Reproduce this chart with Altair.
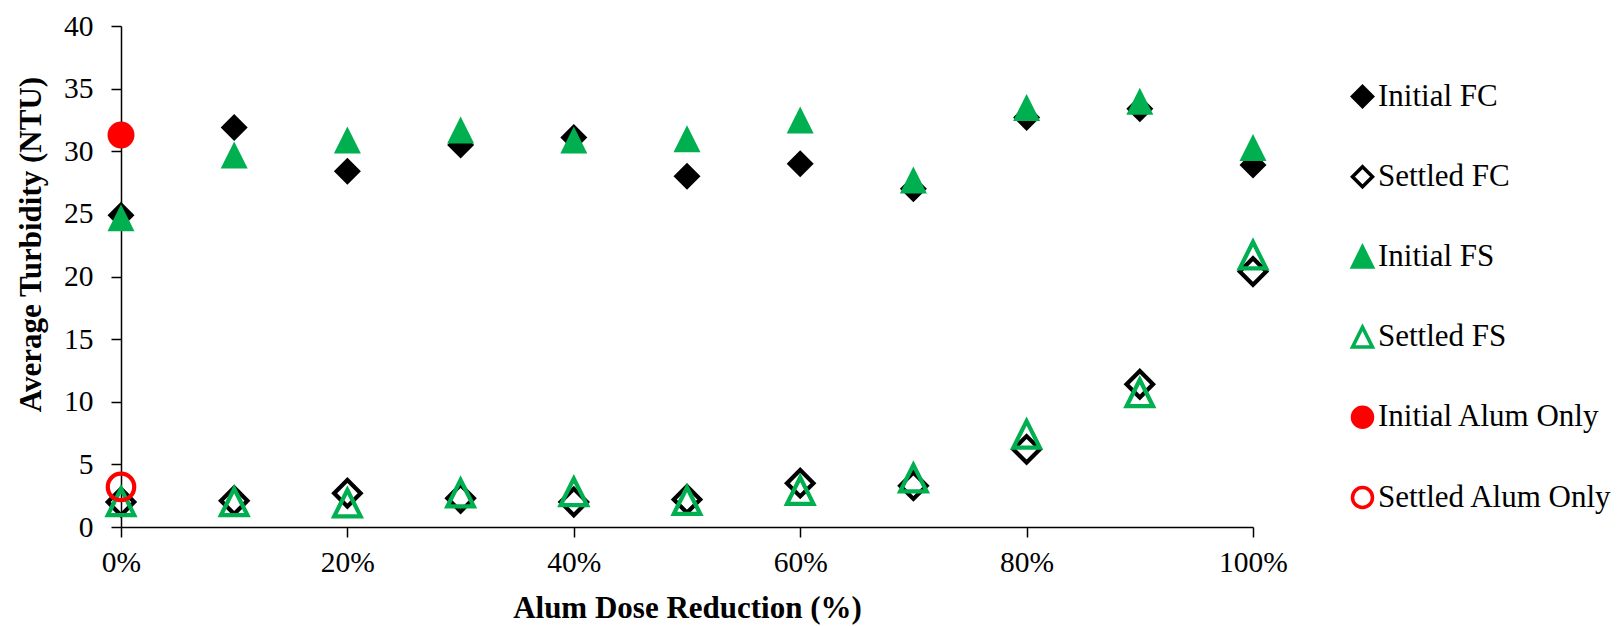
import altair as alt
import pandas as pd

# Alum dose reduction (%) for each jar test
reduction = [0, 10, 20, 30, 40, 50, 60, 70, 80, 90, 100]

# Average turbidity (NTU)
initial_fc = [24.9, 31.9, 28.4, 30.5, 31.1, 28.0, 29.0, 27.0, 32.7, 33.4, 28.9]
settled_fc = [2.0, 2.1, 2.7, 2.3, 2.0, 2.2, 3.5, 3.3, 6.2, 11.4, 20.4]
initial_fs = [24.7, 29.7, 30.9, 31.7, 30.9, 31.0, 32.5, 27.7, 33.5, 34.0, 30.3]
settled_fs = [2.0, 2.0, 1.9, 2.7, 2.8, 2.1, 2.9, 3.9, 7.4, 10.7, 21.7]

# Alum-only control (no reduction)
alum_reduction = [0]
initial_alum = [31.3]
settled_alum = [3.2]

series_names = ["Initial FC", "Settled FC", "Initial FS", "Settled FS",
                "Initial Alum Only", "Settled Alum Only"]

frames = []
for name, xs, ys in [
    ("Initial FC", reduction, initial_fc),
    ("Settled FC", reduction, settled_fc),
    ("Initial FS", reduction, initial_fs),
    ("Settled FS", reduction, settled_fs),
    ("Initial Alum Only", alum_reduction, initial_alum),
    ("Settled Alum Only", alum_reduction, settled_alum),
]:
    frames.append(pd.DataFrame({"reduction": xs, "turbidity": ys, "series": name}))
data = pd.concat(frames, ignore_index=True)
data["hollow"] = data["series"].str.startswith("Settled")

FONT = "Liberation Serif"
BLACK = "#000000"
GREEN = "#00B050"
RED = "#FF0000"

diamond = "M0,-1L1,0L0,1L-1,0Z"
triangle = "M0,-1L-1,1L1,1Z"
circle = "M1,0A1,1,0,1,1,-1,0A1,1,0,1,1,1,0Z"

shape_range = [diamond, diamond, triangle, triangle, circle, circle]
stroke_range = [BLACK, BLACK, GREEN, GREEN, RED, RED]
fill_range = [BLACK, "transparent", GREEN, "transparent", RED, "transparent"]

legend = alt.Legend(
    title=None,
    orient="none",
    legendX=1226,
    legendY=55,
    padding=0,
    labelFont=FONT,
    labelFontSize=31,
    labelColor=BLACK,
    labelOffset=0,
    symbolSize=400,
    symbolStrokeWidth=3.5,
    rowPadding=45.2,
    labelLimit=400,
)

base = alt.Chart(data).encode(
    x=alt.X(
        "reduction:Q",
        scale=alt.Scale(domain=[0, 100], nice=False, zero=False),
        axis=alt.Axis(
            values=[0, 20, 40, 60, 80, 100],
            labelExpr="datum.value + '%'",
            title="Alum Dose Reduction (%)",
            labelPadding=11,
            labelFlush=False,
            titleY=81,
            titleBaseline="middle",
        ),
    ),
    y=alt.Y(
        "turbidity:Q",
        scale=alt.Scale(domain=[0, 40], nice=False),
        axis=alt.Axis(
            values=[0, 5, 10, 15, 20, 25, 30, 35, 40],
            title="Average Turbidity (NTU)",
            labelPadding=18,
            labelFlush=False,
            titleX=-90,
            titleY=218,
            titleBaseline="middle",
            titleAlign="center",
        ),
    ),
    shape=alt.Shape("series:N", scale=alt.Scale(domain=series_names, range=shape_range), legend=legend),
    stroke=alt.Stroke("series:N", scale=alt.Scale(domain=series_names, range=stroke_range), legend=legend),
    fill=alt.Fill("series:N", scale=alt.Scale(domain=series_names, range=fill_range), legend=legend),
)

# Solid markers carry no outline; hollow markers get a heavy outline
solid = base.transform_filter("!datum.hollow").mark_point(size=729, strokeWidth=0, opacity=1)
hollow = base.transform_filter("datum.hollow").mark_point(size=700, strokeWidth=4.2, opacity=1)

chart = (
    alt.layer(solid, hollow)
    .properties(
        width=1132,
        height=501,
        background="white",
        autosize=alt.AutoSizeParams(type="none"),
        padding={"left": 121, "top": 26, "right": 370, "bottom": 99},
    )
    .configure_view(stroke=None)
    .configure_axis(
        grid=False,
        domainColor=BLACK,
        domainWidth=1.5,
        tickColor=BLACK,
        tickWidth=1.5,
        tickSize=10,
        labelFont=FONT,
        labelFontSize=29.5,
        labelColor=BLACK,
        titleFont=FONT,
        titleFontSize=31,
        titleFontWeight="bold",
        titleColor=BLACK,
    )
)

chart.save("out.html", embed_options={"renderer": "svg", "actions": False})
